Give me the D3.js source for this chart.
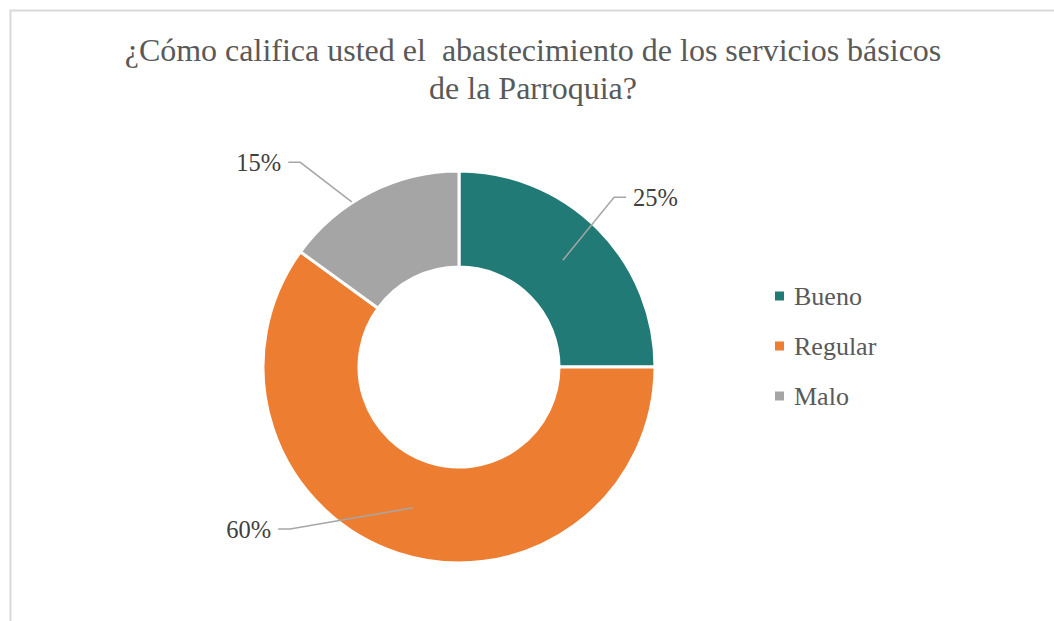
<!DOCTYPE html>
<html>
<head>
<meta charset="utf-8">
<script src="https://cdn.jsdelivr.net/npm/d3@7/dist/d3.min.js"></script>
<style>
  html, body { margin: 0; padding: 0; background: #fff; }
  svg { display: block; }
</style>
</head>
<body>
<svg id="chart" width="1054" height="621"></svg>
<script>
const categories = ["Bueno", "Regular", "Malo"];
const values = [25, 60, 15];
const valueLabels = ["25%", "60%", "15%"];
const colors = ["#217A76", "#ED7D31", "#A5A5A5"];
const titleLines = ["¿Cómo califica usted el\u00a0 abastecimiento de los servicios básicos", "de la Parroquia?"];

// label layout (polar, degrees clockwise from north)
const leaderStart = [{a: 44.2, r: 149}, {a: 198, r: 148}, {a: 327, r: 197}];
const leaderElbow = [{a: 42.4, r: 230}, {a: 226.2, r: 234}, {a: 322.2, r: 259}];
const leaderDir = [1, -1, -1];

const svg = d3.select("#chart");
const W = 1054, H = 621;
const textColor = "#595959";

// chart border
svg.append("rect")
  .attr("x", 10.5).attr("y", 10.5)
  .attr("width", W + 20).attr("height", H + 20)
  .attr("fill", "#fff").attr("stroke", "#D9D9D9").attr("stroke-width", 2);

// title
svg.append("text")
  .attr("x", 533).attr("y", 61)
  .attr("text-anchor", "middle")
  .attr("font-family", "'Liberation Serif', 'Times New Roman', serif")
  .attr("font-size", 32)
  .attr("fill", textColor)
  .selectAll("tspan").data(titleLines).join("tspan")
  .attr("x", 533)
  .attr("dy", (d, i) => i === 0 ? 0 : 38)
  .text(d => d);

const cx = 459, cy = 367;
const outerR = 196, innerR = 100;

const pie = d3.pie().sort(null).value(d => d)(values);
const arc = d3.arc().innerRadius(innerR).outerRadius(outerR);

const g = svg.append("g").attr("transform", `translate(${cx},${cy})`);
g.selectAll("path").data(pie).join("path")
  .attr("d", arc)
  .attr("fill", (d, i) => colors[i])
  .attr("stroke", "#fff")
  .attr("stroke-width", 3)
  .attr("stroke-linejoin", "round");

function polar(p) {
  const a = p.a * Math.PI / 180;
  return [p.r * Math.sin(a), -p.r * Math.cos(a)];
}

// leader lines + labels
pie.forEach((d, i) => {
  const s = polar(leaderStart[i]);
  const e = polar(leaderElbow[i]);
  const dir = leaderDir[i];
  const h = [e[0] + dir * 12, e[1]];
  g.append("path")
    .attr("d", d3.line()([s, e, h]))
    .attr("fill", "none")
    .attr("stroke", "#A6A6A6")
    .attr("stroke-width", 1.5);
  g.append("text")
    .attr("x", h[0] + dir * 7)
    .attr("y", h[1])
    .attr("dy", "0.35em")
    .attr("text-anchor", dir > 0 ? "start" : "end")
    .attr("font-family", "'Liberation Serif', 'Times New Roman', serif")
    .attr("font-size", 24.5)
    .attr("fill", "#404040")
    .text(valueLabels[i]);
});

// legend
const legend = svg.append("g").attr("transform", "translate(775,296)");
const items = legend.selectAll("g").data(categories).join("g")
  .attr("transform", (d, i) => `translate(0,${i * 50})`);
items.append("rect")
  .attr("x", 0).attr("y", -4.5)
  .attr("width", 9).attr("height", 9)
  .attr("fill", (d, i) => colors[i]);
items.append("text")
  .attr("x", 19).attr("y", 0)
  .attr("dy", "0.35em")
  .attr("font-family", "'Liberation Serif', 'Times New Roman', serif")
  .attr("font-size", 26)
  .attr("fill", textColor)
  .text(d => d);
</script>
</body>
</html>
